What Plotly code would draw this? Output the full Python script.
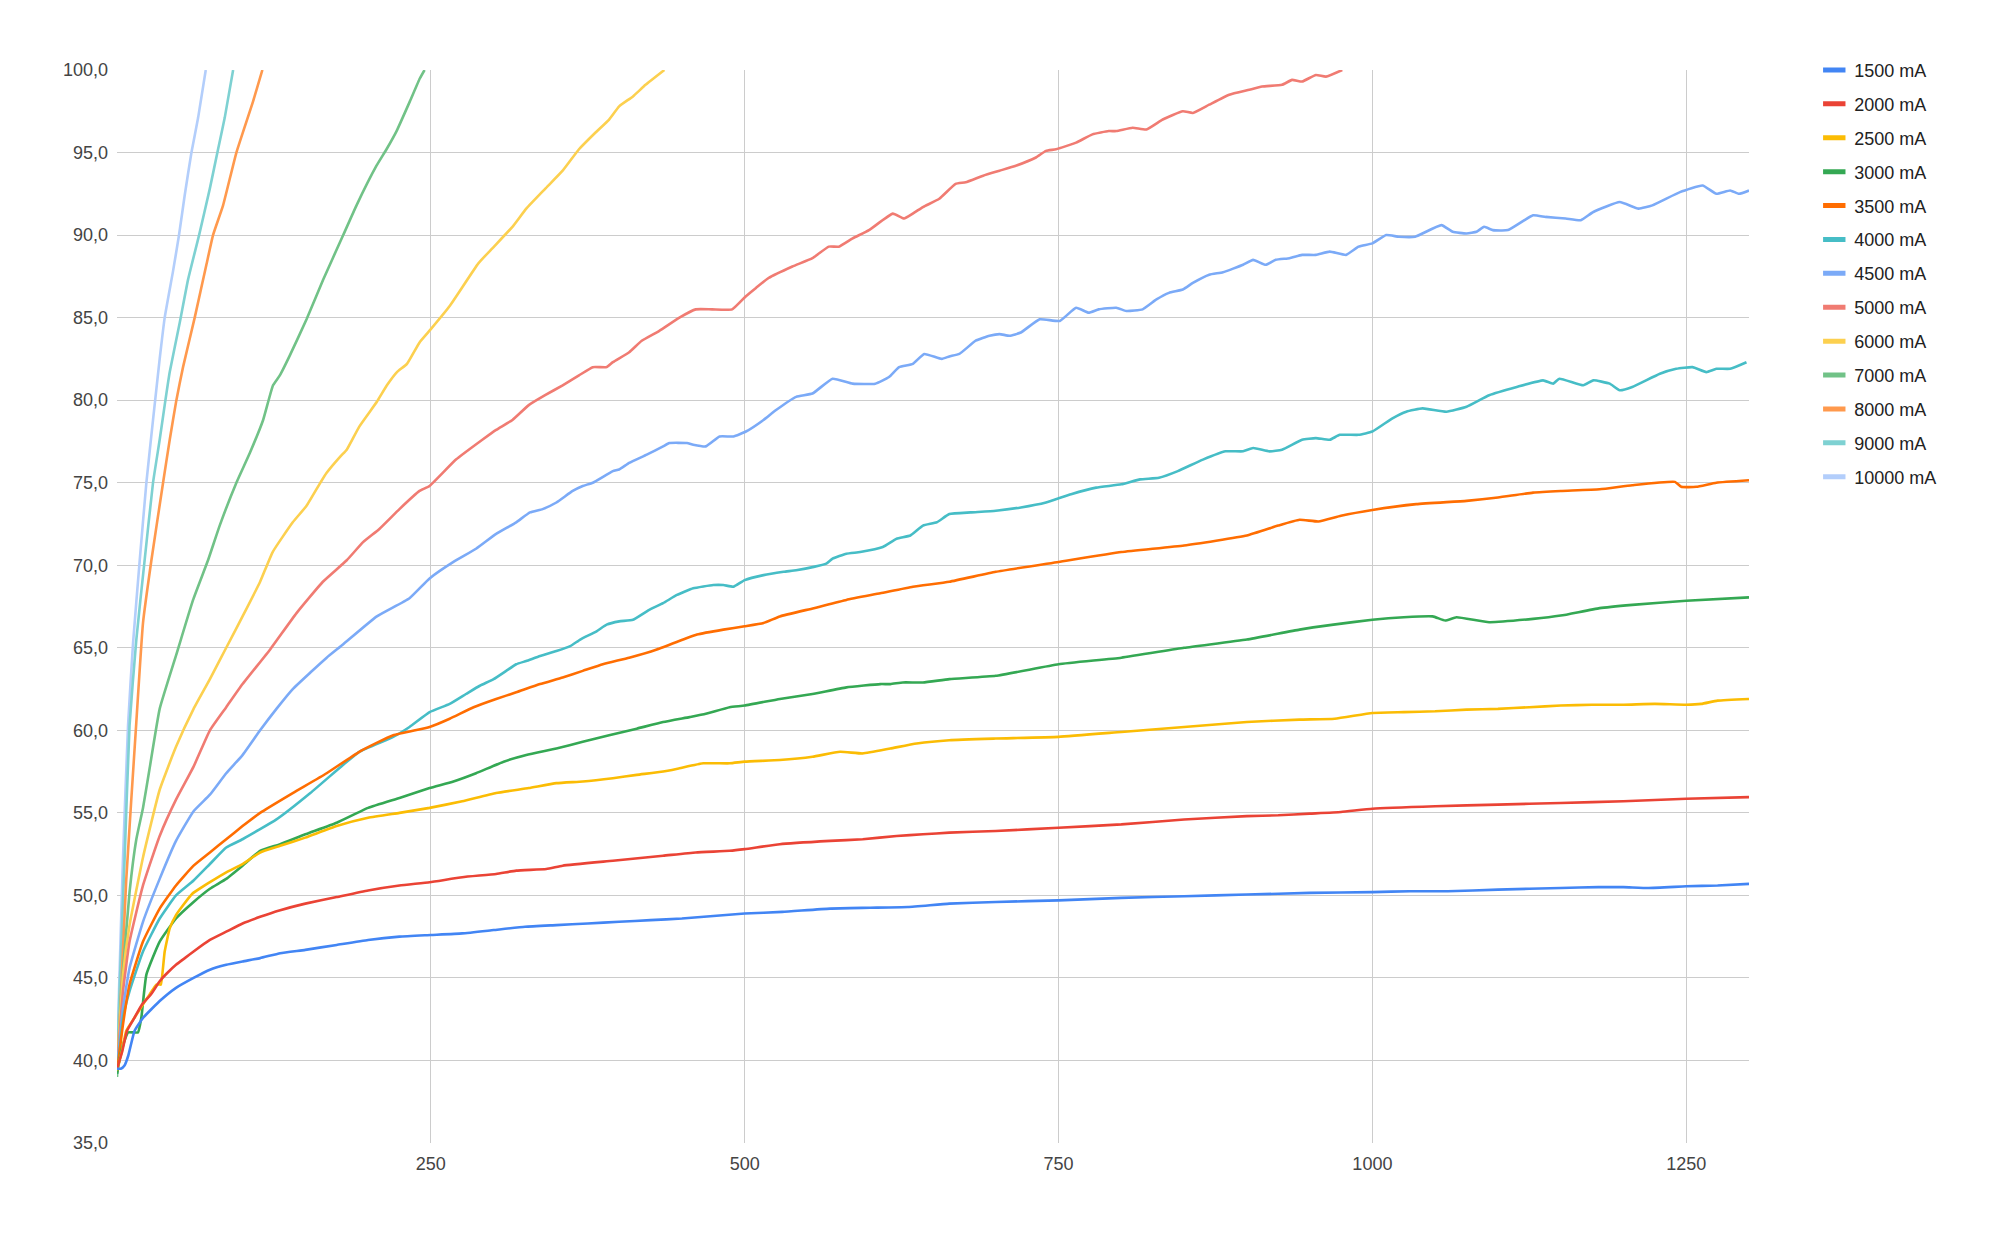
import plotly.graph_objects as go

# ---------------- data ----------------
x_1500 = [0, 3, 6, 9, 14, 21, 34, 47, 61, 74, 87, 100, 114, 130, 150, 175, 200, 225, 250, 275, 300, 325, 350, 375, 400, 425, 450, 475, 500, 530, 568, 600, 630, 663, 700, 750, 800, 850, 900, 950, 1000, 1030, 1060, 1100, 1150, 1180, 1200, 1220, 1250, 1275, 1300]
y_1500 = [39.5, 39.5, 39.7, 40.3, 41.8, 42.6, 43.6, 44.4, 45.0, 45.5, 45.8, 46.0, 46.2, 46.5, 46.7, 47.0, 47.3, 47.5, 47.6, 47.7, 47.9, 48.1, 48.2, 48.3, 48.4, 48.5, 48.6, 48.75, 48.9, 49.0, 49.2, 49.25, 49.3, 49.5, 49.6, 49.7, 49.85, 49.95, 50.05, 50.15, 50.2, 50.25, 50.25, 50.35, 50.45, 50.5, 50.5, 50.45, 50.55, 50.6, 50.7]

x_2000 = [0, 4, 8, 14, 20, 27, 34, 40, 47, 54, 61, 74, 87, 100, 114, 130, 150, 175, 200, 225, 249, 275, 302, 318, 342, 355, 395, 435, 461, 488, 500, 528, 568, 594, 621, 642, 663, 700, 750, 800, 850, 900, 925, 950, 975, 1000, 1050, 1100, 1150, 1200, 1250, 1300]
y_2000 = [39.5, 40.5, 41.8, 42.6, 43.4, 44.0, 44.8, 45.3, 45.8, 46.2, 46.6, 47.3, 47.8, 48.3, 48.7, 49.1, 49.5, 49.9, 50.3, 50.6, 50.8, 51.1, 51.3, 51.5, 51.6, 51.8, 52.1, 52.4, 52.6, 52.7, 52.8, 53.1, 53.3, 53.4, 53.6, 53.7, 53.8, 53.9, 54.1, 54.3, 54.6, 54.8, 54.85, 54.95, 55.05, 55.25, 55.4, 55.5, 55.6, 55.7, 55.85, 55.95]

x_2500 = [0, 4, 7.4, 14, 20.7, 26, 31.4, 34, 35, 38, 42, 47, 52.6, 60, 74, 87, 100, 114, 130, 150, 175, 200, 225, 249, 275, 302, 328, 350, 371, 395, 414, 435, 448, 467, 488, 500, 528, 554, 576, 594, 616, 637, 663, 700, 750, 800, 850, 900, 942, 970, 1000, 1025, 1050, 1075, 1100, 1125, 1150, 1175, 1200, 1225, 1250, 1262, 1275, 1300]
y_2500 = [39.4, 40.6, 41.8, 42.6, 43.4, 44.0, 44.6, 44.6, 44.6, 46.6, 48.0, 48.8, 49.4, 50.1, 50.8, 51.4, 51.9, 52.6, 53.0, 53.5, 54.2, 54.7, 55.0, 55.3, 55.7, 56.2, 56.5, 56.8, 56.9, 57.1, 57.3, 57.5, 57.7, 58.0, 58.0, 58.1, 58.2, 58.4, 58.7, 58.6, 58.9, 59.2, 59.4, 59.5, 59.6, 59.9, 60.2, 60.5, 60.65, 60.7, 61.05, 61.1, 61.15, 61.25, 61.3, 61.4, 61.5, 61.55, 61.55, 61.6, 61.55, 61.6, 61.8, 61.9]

x_3000 = [0, 3.5, 8.8, 16.7, 19.4, 23.4, 34, 47, 61, 74, 87, 100, 114, 130, 150, 175, 200, 225, 249, 268, 286, 308, 326, 350, 371, 392, 414, 435, 456, 469, 488, 500, 528, 554, 581, 608, 616, 626, 642, 663, 700, 750, 800, 850, 900, 942, 969, 1000, 1025, 1048, 1058, 1067, 1093, 1128, 1150, 1181, 1207, 1250, 1300]
y_3000 = [39.2, 40.6, 41.7, 41.7, 42.6, 45.2, 47.2, 48.6, 49.6, 50.4, 51.0, 51.8, 52.7, 53.1, 53.7, 54.4, 55.3, 55.9, 56.5, 56.9, 57.4, 58.1, 58.5, 58.9, 59.3, 59.7, 60.1, 60.5, 60.8, 61.0, 61.4, 61.5, 61.9, 62.2, 62.6, 62.8, 62.8, 62.9, 62.9, 63.1, 63.3, 64.0, 64.4, 65.0, 65.5, 66.1, 66.4, 66.7, 66.85, 66.9, 66.65, 66.85, 66.55, 66.75, 66.95, 67.4, 67.6, 67.85, 68.05]

x_3500 = [0, 4.8, 10, 20.7, 34, 47, 61, 74, 87, 100, 114, 140, 167, 193, 220, 249, 265, 284, 302, 318, 337, 355, 371, 387, 408, 430, 451, 462, 483, 500, 515, 528, 555, 581, 608, 634, 663, 700, 750, 800, 850, 900, 925, 942, 957, 975, 1000, 1035, 1075, 1100, 1128, 1150, 1181, 1207, 1241, 1246, 1258, 1274, 1300]
y_3500 = [39.3, 42.2, 44.6, 47.2, 49.2, 50.6, 51.8, 52.6, 53.4, 54.2, 55.0, 56.2, 57.4, 58.7, 59.7, 60.2, 60.7, 61.4, 61.9, 62.3, 62.8, 63.2, 63.6, 64.0, 64.4, 64.9, 65.5, 65.8, 66.1, 66.3, 66.5, 66.9, 67.4, 67.9, 68.3, 68.7, 69.0, 69.6, 70.2, 70.8, 71.2, 71.8, 72.4, 72.75, 72.65, 73.0, 73.35, 73.7, 73.9, 74.1, 74.4, 74.5, 74.6, 74.85, 75.05, 74.75, 74.75, 75.0, 75.15]

x_4000 = [0, 4.8, 10, 20.7, 34, 47, 61, 74, 87, 100, 127, 154, 180, 193, 220, 233, 249, 265, 278, 289, 300, 310, 318, 326, 337, 350, 361, 369, 382, 390, 400, 411, 424, 435, 446, 459, 475, 483, 491, 500, 515, 531, 541, 555, 565, 570, 581, 592, 610, 621, 632, 642, 653, 663, 680, 700, 720, 740, 760, 780, 800, 815, 830, 845, 865, 883, 897, 905, 918, 928, 944, 955, 966, 974, 989, 1000, 1016, 1027, 1040, 1059, 1075, 1093, 1115, 1136, 1144, 1149, 1168, 1176, 1189, 1197, 1207, 1229, 1242, 1255, 1266, 1274, 1285, 1298]
y_4000 = [39.2, 42.6, 44.2, 46.6, 48.6, 50.0, 50.9, 51.9, 52.9, 53.4, 54.6, 56.2, 57.9, 58.7, 59.6, 60.2, 61.1, 61.6, 62.2, 62.7, 63.1, 63.6, 64.0, 64.2, 64.5, 64.8, 65.1, 65.5, 66.0, 66.4, 66.6, 66.7, 67.3, 67.7, 68.2, 68.6, 68.8, 68.8, 68.7, 69.1, 69.4, 69.6, 69.7, 69.9, 70.1, 70.4, 70.7, 70.8, 71.1, 71.6, 71.8, 72.4, 72.6, 73.1, 73.2, 73.3, 73.5, 73.8, 74.3, 74.7, 74.9, 75.2, 75.3, 75.7, 76.4, 76.9, 76.9, 77.1, 76.9, 77.0, 77.6, 77.7, 77.6, 77.9, 77.9, 78.1, 78.9, 79.3, 79.5, 79.3, 79.6, 80.3, 80.8, 81.2, 81.0, 81.3, 80.9, 81.2, 81.0, 80.6, 80.8, 81.6, 81.9, 82.0, 81.7, 81.9, 81.9, 82.3]

x_4500 = [0, 4.8, 10, 20.7, 34, 47, 61, 74, 87, 100, 114, 127, 140, 154, 167, 180, 207, 233, 249, 268, 286, 302, 318, 329, 339, 350, 363, 371, 379, 395, 400, 408, 422, 435, 440, 454, 459, 469, 480, 491, 501, 515, 525, 541, 554, 570, 586, 604, 615, 623, 634, 643, 657, 663, 671, 684, 695, 703, 711, 720, 735, 751, 764, 774, 782, 796, 804, 817, 828, 838, 849, 857, 870, 881, 897, 905, 915, 923, 934, 944, 955, 966, 979, 989, 1000, 1011, 1021, 1034, 1055, 1064, 1075, 1083, 1089, 1096, 1108, 1128, 1138, 1154, 1166, 1176, 1197, 1212, 1223, 1245, 1263, 1274, 1285, 1292, 1300]
y_4500 = [39.5, 43.2, 45.6, 48.4, 51.0, 53.3, 55.1, 56.1, 57.4, 58.5, 60.0, 61.3, 62.5, 63.5, 64.4, 65.2, 66.9, 68.0, 69.2, 70.2, 71.0, 71.9, 72.6, 73.2, 73.4, 73.8, 74.5, 74.8, 75.0, 75.7, 75.8, 76.2, 76.7, 77.2, 77.4, 77.4, 77.3, 77.2, 77.8, 77.8, 78.1, 78.8, 79.4, 80.2, 80.4, 81.3, 81.0, 81.0, 81.4, 82.0, 82.2, 82.8, 82.5, 82.65, 82.8, 83.6, 83.9, 84.0, 83.9, 84.1, 84.9, 84.8, 85.6, 85.3, 85.5, 85.6, 85.4, 85.5, 86.1, 86.5, 86.7, 87.1, 87.6, 87.75, 88.2, 88.5, 88.2, 88.5, 88.6, 88.8, 88.8, 89.0, 88.8, 89.3, 89.5, 90.0, 89.9, 89.9, 90.6, 90.2, 90.1, 90.2, 90.5, 90.3, 90.3, 91.2, 91.1, 91.0, 90.9, 91.4, 92.0, 91.6, 91.8, 92.6, 93.0, 92.5, 92.7, 92.5, 92.7]

x_5000 = [0, 4.8, 10, 20.7, 34, 47, 61, 74, 87, 100, 122, 143, 164, 183, 196, 209, 225, 241, 249, 270, 291, 302, 315, 328, 341, 355, 368, 379, 390, 395, 408, 418, 432, 448, 461, 474, 490, 501, 509, 519, 538, 554, 567, 575, 586, 599, 618, 627, 642, 655, 668, 676, 690, 703, 716, 732, 740, 748, 764, 777, 790, 796, 809, 820, 833, 849, 857, 870, 886, 902, 912, 928, 936, 944, 955, 963, 976]
y_5000 = [39.5, 44.2, 47.2, 50.6, 53.6, 55.8, 57.8, 60.0, 61.4, 62.8, 64.9, 67.1, 69.0, 70.3, 71.4, 72.2, 73.4, 74.5, 74.8, 76.4, 77.6, 78.2, 78.8, 79.7, 80.3, 80.9, 81.5, 82.0, 82.0, 82.3, 82.9, 83.6, 84.2, 85.0, 85.5, 85.5, 85.5, 86.3, 86.8, 87.4, 88.1, 88.6, 89.3, 89.3, 89.8, 90.3, 91.3, 91.0, 91.7, 92.2, 93.1, 93.2, 93.6, 93.9, 94.2, 94.7, 95.1, 95.2, 95.6, 96.1, 96.3, 96.3, 96.5, 96.4, 97.0, 97.5, 97.4, 97.9, 98.5, 98.8, 99.0, 99.1, 99.4, 99.3, 99.7, 99.6, 100.0]

x_6000 = [0, 4.8, 10, 20.7, 34, 47, 61, 74, 87, 100, 114, 124, 140, 151, 162, 167, 178, 183, 193, 207, 215, 223, 231, 241, 250, 265, 288, 299, 315, 326, 341, 355, 368, 381, 392, 400, 411, 421, 436]
y_6000 = [39.5, 45.2, 48.2, 52.3, 56.4, 59.0, 61.3, 63.1, 65.0, 66.9, 69.0, 70.8, 72.6, 73.6, 75.0, 75.6, 76.6, 77.0, 78.4, 79.9, 80.9, 81.7, 82.2, 83.5, 84.3, 85.7, 88.3, 89.2, 90.5, 91.6, 92.8, 93.9, 95.2, 96.2, 97.0, 97.8, 98.4, 99.1, 100.0]

x_7000 = [0, 3.5, 10, 15.4, 20.7, 26, 34, 47.3, 60.6, 72.5, 81.8, 95.1, 105.8, 116.4, 124.3, 129.7, 137.6, 151, 164.2, 180.2, 190.8, 206.7, 214.7, 222.7, 233.3, 241.3, 245]
y_7000 = [39.0, 44.2, 50.2, 53.4, 55.3, 57.7, 61.3, 64.6, 67.9, 70.3, 72.4, 75.0, 76.8, 78.8, 80.9, 81.5, 82.7, 84.9, 87.3, 90.0, 91.8, 94.2, 95.2, 96.3, 98.1, 99.5, 100.0]

x_8000 = [0, 2, 7.4, 15.4, 20.7, 27.4, 36.7, 42, 47.3, 52.6, 61.9, 71.2, 76.5, 84.5, 95.1, 108.4, 115.8]
y_8000 = [39.3, 42.2, 51.0, 60.5, 66.5, 70.3, 75.0, 77.6, 80.0, 82.0, 85.0, 88.2, 90.0, 91.8, 95.0, 98.1, 100.0]

x_9000 = [0, 2, 6.1, 10, 15.4, 22, 28.7, 34, 38, 42, 50, 56.6, 65.4, 73.9, 80.5, 85.8, 92.5]
y_9000 = [39.3, 44.2, 52.3, 60.3, 65.5, 70.3, 75.0, 77.6, 79.7, 81.7, 84.7, 87.3, 90.0, 92.8, 95.2, 97.1, 100.0]

x_10000 = [0, 1.6, 4.8, 8.8, 12.8, 18.1, 23.4, 28.7, 34, 38, 44.6, 49.4, 53.9, 59.3, 64.6, 70.7]
y_10000 = [39.3, 44.2, 52.3, 60.3, 65.3, 70.3, 75.0, 78.8, 82.5, 85.0, 87.8, 90.0, 92.4, 95.0, 97.1, 100.0]

series_names = ["1500 mA", "2000 mA", "2500 mA", "3000 mA", "3500 mA", "4000 mA", "4500 mA",
                "5000 mA", "6000 mA", "7000 mA", "8000 mA", "9000 mA", "10000 mA"]
series_colors = ["#4285F4", "#EA4335", "#FBBC04", "#34A853", "#FF6D01", "#46BDC6", "#7BAAF7",
                 "#F07B72", "#FCD04F", "#71C287", "#FF994D", "#7ED1D2", "#B3CEFB"]
series_x = [x_1500, x_2000, x_2500, x_3000, x_3500, x_4000, x_4500, x_5000, x_6000, x_7000, x_8000, x_9000, x_10000]
series_y = [y_1500, y_2000, y_2500, y_3000, y_3500, y_4000, y_4500, y_5000, y_6000, y_7000, y_8000, y_9000, y_10000]

y_tick_vals = [35, 40, 45, 50, 55, 60, 65, 70, 75, 80, 85, 90, 95, 100]
y_tick_text = ["35,0", "40,0", "45,0", "50,0", "55,0", "60,0", "65,0", "70,0", "75,0", "80,0", "85,0", "90,0", "95,0", "100,0"]
x_tick_vals = [250, 500, 750, 1000, 1250]
x_tick_text = ["250", "500", "750", "1000", "1250"]

# ---------------- figure ----------------
FONT = "Arial, 'Liberation Sans', sans-serif"
fig = go.Figure()

# draw later series first so early series end up on top (as in reference)
for name, color, xs, ys in reversed(list(zip(series_names, series_colors, series_x, series_y))):
    fig.add_trace(go.Scatter(x=xs, y=ys, mode="lines", name=name,
                             line=dict(color=color, width=2.6, shape="spline", smoothing=0.4),
                             showlegend=False, hoverinfo="skip"))

# legend swatches (short thick bars)
for i, (name, color) in enumerate(zip(series_names, series_colors)):
    fig.add_trace(go.Scatter(x=[None], y=[None], mode="markers", name=name,
                             legendgroup=f"g{i}",
                             marker=dict(symbol="line-ew", size=16, color=color,
                                         line=dict(color=color, width=6))))

fig.update_layout(
    width=1990, height=1226,
    paper_bgcolor="white", plot_bgcolor="white",
    margin=dict(l=109, r=249, t=62, b=91),
    font=dict(family=FONT, size=18, color="#444444"),
    showlegend=True,
    legend=dict(x=1.04, y=1.017, xanchor="left", yanchor="top",
                font=dict(family=FONT, size=18, color="#222222"),
                bgcolor="rgba(0,0,0,0)", borderwidth=0,
                tracegroupgap=7.5, itemclick=False),
    xaxis=dict(range=[0, 1300], tickmode="array", tickvals=x_tick_vals, ticktext=x_tick_text,
               showgrid=True, gridcolor="#cccccc", gridwidth=1.3, zeroline=False,
               showline=False, ticks="", ticklabelstandoff=8,
               tickfont=dict(family=FONT, size=18, color="#444444")),
    yaxis=dict(range=[35, 100], tickmode="array", tickvals=y_tick_vals, ticktext=y_tick_text,
               showgrid=True, gridcolor="#cccccc", gridwidth=1.3, zeroline=False,
               showline=False, ticks="", ticklabelstandoff=8,
               tickfont=dict(family=FONT, size=18, color="#444444")),
)

fig.write_html("out.html")
